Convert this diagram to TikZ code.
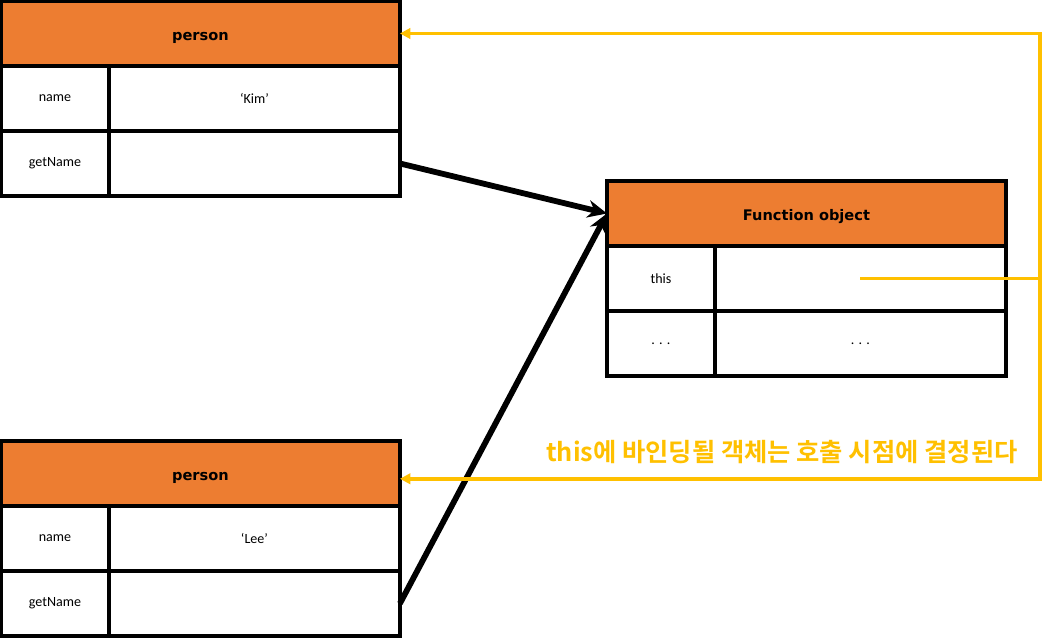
\documentclass[tikz,border=0pt]{standalone}
\usepackage{fontspec}
\usetikzlibrary{arrows.meta}
\newfontfamily\cellfont{Carlito}
\newfontfamily\headfont{DejaVu Sans}
\newfontfamily\korfont{Noto Sans CJK KR}[BoldFont={Noto Sans CJK KR Bold}]
\definecolor{headorange}{HTML}{ED7D31}
\definecolor{bindyellow}{HTML}{FFC000}
\tikzset{
cell/.style={draw, line width=2pt, inner sep=0pt, outer sep=0pt, minimum height=1.3cm, anchor=north west, font=\cellfont\fontsize{8}{10}\selectfont},
headcell/.style={cell, fill=headorange, minimum width=7.98cm, text height=1.8ex, text depth=0pt, font=\headfont\bfseries\fontsize{8.3}{10}\selectfont},
keycell/.style={cell, minimum width=2.16cm},
valcell/.style={cell, minimum width=5.82cm},
ptr/.style={line width=3.3pt, -{Stealth[length=11pt,width=10pt]}},
bind/.style={draw=bindyellow, line width=2pt, -{Triangle[length=6pt,width=6pt]}},
}
\begin{document}
\begin{tikzpicture}[x=0.02cm,y=-0.02cm]
\useasboundingbox (0,0) rectangle (1042,639);

\foreach \id/\top/\val in {A/1/‘Kim’, B/441/‘Lee’} {
\node[headcell] (head\id) at (1,\top) {person};
\node[keycell] (name\id) at (head\id.south west) {name};
\node[valcell] (nameval\id) at (name\id.north east) {\val};
\node[keycell] (get\id) at (name\id.south west) {getName};
\node[valcell] (getval\id) at (get\id.north east) {};}

\node[headcell] (funhead) at (607,181) {Function object};
\node[keycell] (funthis) at (funhead.south west) {this};
\node[valcell] (funthisval) at (funthis.north east) {};
\node[keycell] (fundots) at (funthis.south west) {. . .};
\node[valcell] (fundotsval) at (fundots.north east) {. . .};

\draw[ptr] (getvalA.east) -- (funhead.west);
\draw[ptr] (getvalB.east) -- (funhead.west);

\coordinate (rail) at (1040,0);
\draw[bind] (funthisval.center) -- (funthisval.center -| rail) |- (headA.east);
\draw[bind] (funthisval.center -| rail) |- ([yshift=-3pt]headB.east);

\node[font=\korfont\bfseries\fontsize{14.4}{17}\selectfont, text=bindyellow, anchor=east, inner sep=0pt] (bindnote) at (1018,452) {this에 바인딩될 객체는 호출 시점에 결정된다};

\end{tikzpicture}
\end{document}
